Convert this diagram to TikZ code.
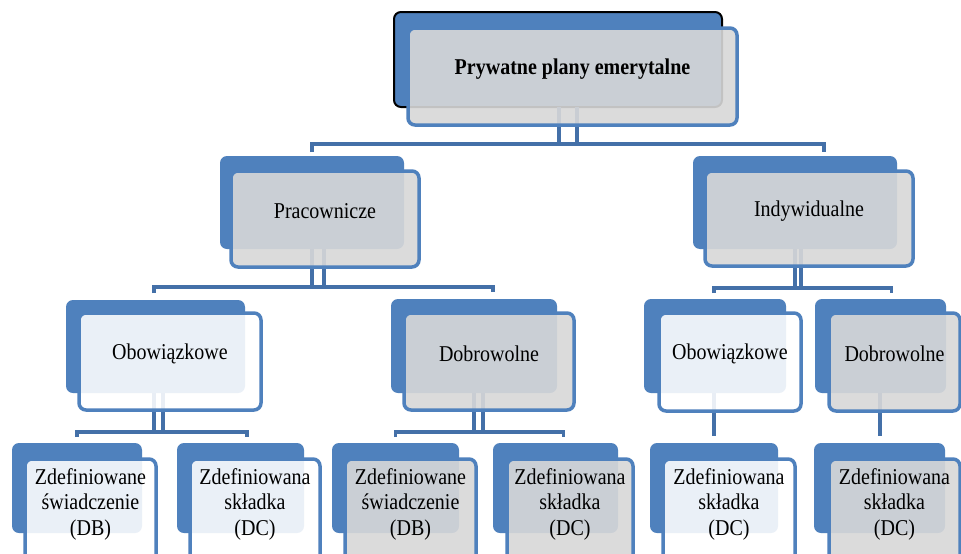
\documentclass[tikz,border=0pt]{standalone}
\usepackage{fontspec}
\setmainfont{Liberation Serif}[FakeStretch=0.885]
\usetikzlibrary{fit}
\definecolor{sblue}{HTML}{4F81BD}
\definecolor{cblue}{HTML}{4470A8}
\definecolor{fgray}{HTML}{D8D8D8}
\newcommand\lab{\fontsize{22.6}{25.5}\selectfont}
\begin{document}
\begin{tikzpicture}[x=1pt,y=-1pt,
  backbox/.style={fill=sblue, draw=none, rounded corners=7pt, inner sep=0pt, outer sep=0pt},
  frontgray/.style={draw=sblue, line width=3.5pt, fill=fgray, fill opacity=0.9, text opacity=1,
    rounded corners=7pt, inner sep=0pt, outer sep=0pt, align=center, font=\lab},
  frontlight/.style={frontgray, fill=white, fill opacity=0.886},
  conn/.style={draw=cblue, line width=3.5pt}]
\useasboundingbox (0,0) rectangle (961,554);
\clip (0,0) rectangle (961,554);
\fill[white] (0,0) rectangle (961,554);
% back boxes
\node[backbox, draw=black, line width=2pt, fit={(394,12) (722,107)}] (bTop) {};
\node[backbox, fit={(220,156) (404,249)}] (bPrac) {};
\node[backbox, fit={(693,156) (897,249)}] (bIndy) {};
\node[backbox, fit={(66,300) (245,393)}] (bOb1) {};
\node[backbox, fit={(391,299) (557,393)}] (bDo1) {};
\node[backbox, fit={(644,299) (786,393)}] (bOb2) {};
\node[backbox, fit={(815,299) (946,393)}] (bDo2) {};
\node[backbox, fit={(12,443) (142,533)}] (bC1) {};
\node[backbox, fit={(177,443) (304,533)}] (bC2) {};
\node[backbox, fit={(332,443) (459,533)}] (bC3) {};
\node[backbox, fit={(493,443) (618,533)}] (bC4) {};
\node[backbox, fit={(650,443) (778,533)}] (bC5) {};
\node[backbox, fit={(814,443) (945,533)}] (bC6) {};
% connectors level 0
\draw[conn] ([xshift=1pt]bTop.south) -- ++(0,37);
\draw[conn] ([xshift=19pt]bTop.south) -- ++(0,37);
\draw[conn] ([yshift=4pt]bPrac.north) -- ++(0,-8) -| ([xshift=29pt,yshift=4pt]bIndy.north);
% level 1 left
\draw[conn] (bPrac.south) -- ++(0,38);
\draw[conn] ([xshift=12pt]bPrac.south) -- ++(0,38);
\draw[conn] ([xshift=-1.5pt,yshift=7pt]bOb1.north) -- ++(0,-6) -| ([xshift=19pt,yshift=7pt]bDo1.north);
% level 1 right
\draw[conn] (bIndy.south) -- ++(0,39);
\draw[conn] ([xshift=6pt]bIndy.south) -- ++(0,39);
\draw[conn] ([xshift=-1pt,yshift=6pt]bOb2.north) -- ++(0,-5) -| ([xshift=11pt,yshift=6pt]bDo2.north);
% level 2
\draw[conn] ([xshift=-1.5pt]bOb1.south) -- ++(0,39);
\draw[conn] ([xshift=7.5pt]bOb1.south) -- ++(0,39);
\draw[conn] ([yshift=6pt]bC1.north) -- ++(0,-5) -| ([xshift=6.5pt,yshift=6pt]bC2.north);
\draw[conn] (bDo1.south) -- ++(0,39);
\draw[conn] ([xshift=9pt]bDo1.south) -- ++(0,39);
\draw[conn] ([yshift=6pt]bC3.north) -- ++(0,-5) -| ([xshift=8pt,yshift=6pt]bC4.north);
\draw[conn] ([xshift=-1pt]bOb2.south) -- ([yshift=7pt]bC5.north);
\draw[conn] ([xshift=-0.5pt]bDo2.south) -- ([xshift=0.5pt,yshift=7pt]bC6.north);
% front boxes
\node[frontgray, font=\lab\bfseries, fit={(408,28) (737,125)}] (top) {Prywatne plany emerytalne};
\node[frontgray, fit={(231,171) (419,267)}] (prac) {Pracownicze};
\node[frontgray, fit={(705,171) (913,266)}] (indy) {Indywidualne};
\node[frontlight, fit={(79,313) (261,410)}] (ob1) {Obowiązkowe};
\node[frontgray, fit={(404,313) (574,410)}] (do1) {Dobrowolne};
\node[frontlight, fit={(659,313) (801,411)}] (ob2) {Obowiązkowe};
\node[frontgray, fit={(829,313) (960,411)}] (do2) {Dobrowolne};
\node[frontlight, fit={(25,459) (156,565)}] (c1) {Zdefiniowane\\świadczenie\\(DB)};
\node[frontlight, fit={(190,459) (320,565)}] (c2) {Zdefiniowana\\składka\\(DC)};
\node[frontgray, fit={(345,459) (476,565)}] (c3) {Zdefiniowane\\świadczenie\\(DB)};
\node[frontgray, fit={(507,459) (633,565)}] (c4) {Zdefiniowana\\składka\\(DC)};
\node[frontlight, fit={(663,459) (795,565)}] (c5) {Zdefiniowana\\składka\\(DC)};
\node[frontgray, fit={(829,459) (960,565)}] (c6) {Zdefiniowana\\składka\\(DC)};
\end{tikzpicture}
\end{document}
